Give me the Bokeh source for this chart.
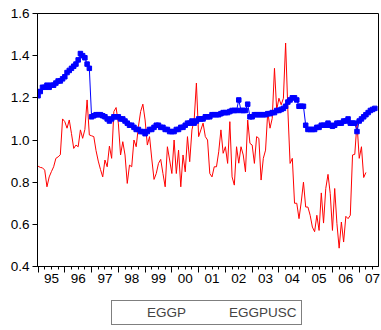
from bokeh.plotting import figure
from bokeh.layouts import column
from bokeh.models import (FixedTicker, LinearAxis, Legend, LegendItem, Range1d,
                          NumeralTickFormatter)
from bokeh.embed import file_html
from bokeh.resources import INLINE

start_year = 1995

eggp = [
    1.21, 1.23, 1.25, 1.25, 1.26, 1.25, 1.26, 1.26, 1.27, 1.28, 1.28, 1.29,
    1.30, 1.32, 1.33, 1.34, 1.35, 1.36, 1.38, 1.41, 1.40, 1.39, 1.36, 1.34,
    1.11, 1.115, 1.12, 1.12, 1.12, 1.115, 1.11, 1.10, 1.09, 1.10, 1.11, 1.11,
    1.11, 1.10, 1.10, 1.09, 1.08, 1.07, 1.07, 1.06, 1.05, 1.05, 1.04, 1.04,
    1.03, 1.04, 1.05, 1.05, 1.06, 1.07, 1.07, 1.06, 1.06, 1.05, 1.05, 1.04,
    1.04, 1.04, 1.05, 1.05, 1.06, 1.06, 1.07, 1.08, 1.08, 1.09, 1.08, 1.09,
    1.10, 1.10, 1.10, 1.11, 1.11, 1.11, 1.12, 1.12, 1.12, 1.12, 1.125, 1.13,
    1.13, 1.13, 1.135, 1.14, 1.14, 1.14, 1.19, 1.14, 1.14, 1.14, 1.17, 1.11,
    1.11, 1.12, 1.12, 1.12, 1.12, 1.12, 1.12, 1.125, 1.125, 1.13, 1.13, 1.14,
    1.14, 1.145, 1.15, 1.16, 1.18, 1.19, 1.20, 1.20, 1.19, 1.16, 1.16, 1.16,
    1.07, 1.05, 1.05, 1.05, 1.05, 1.06, 1.06, 1.07, 1.07, 1.07, 1.08, 1.07,
    1.065, 1.07, 1.08, 1.08, 1.08, 1.09, 1.09, 1.10, 1.08, 1.08, 1.08, 1.04,
    1.09, 1.10, 1.11, 1.12, 1.13, 1.14, 1.145, 1.15,
]

eggpusc = [
    0.876, 0.870, 0.868, 0.857, 0.778, 0.825, 0.850, 0.873, 0.913, 0.920, 0.930, 1.100,
    1.087, 1.056, 1.095, 1.030, 0.960, 0.976, 0.968, 1.048, 1.008, 1.050, 1.190, 1.024,
    1.020, 1.016, 0.950, 0.900, 0.860, 0.825, 0.905, 0.873, 0.971, 0.913, 1.135, 1.154,
    1.080, 0.929, 0.992, 0.929, 0.794, 0.881, 0.873, 1.000, 0.968, 1.063, 1.135, 1.170,
    1.095, 0.976, 1.016, 0.910, 0.813, 0.841, 0.889, 0.908, 0.841, 0.778, 0.968, 0.905,
    0.841, 1.000, 0.841, 0.952, 0.778, 0.929, 0.849, 1.016, 0.897, 1.048, 1.095, 1.270,
    1.016, 1.048, 1.080, 1.016, 1.000, 0.841, 0.825, 0.873, 0.873, 0.944, 1.048, 0.937,
    0.968, 0.889, 1.087, 0.825, 0.786, 0.968, 0.890, 0.968, 0.929, 0.849, 1.095, 0.984,
    0.976, 0.889, 1.016, 1.008, 0.810, 0.913, 0.952, 1.135, 1.056, 1.103, 1.340, 1.143,
    1.198, 1.167, 1.198, 1.460, 1.143, 0.889, 0.913, 0.700, 0.700, 0.627, 0.706, 0.800,
    0.682, 0.682, 0.643, 0.587, 0.565, 0.643, 0.571, 0.749, 0.606, 0.770, 0.837, 0.746,
    0.571, 0.770, 0.603, 0.487, 0.611, 0.516, 0.638, 0.627, 0.643, 0.929, 0.932, 1.080,
    0.913, 0.968, 0.822, 0.846,
]

year_labels = ["95", "96", "97", "98", "99", "00", "01", "02", "03", "04", "05", "06", "07"]
y_ticks = [0.4, 0.6, 0.8, 1.0, 1.2, 1.4, 1.6]
series_names = ["EGGP", "EGGPUSC"]

x_eggp = [start_year + i / 12 for i in range(len(eggp))]
x_usc = [start_year + i / 12 for i in range(len(eggpusc))]

FONT = "Liberation Sans"
BLUE = "#0000FF"
RED = "#FF0000"

p = figure(frame_width=341, frame_height=253,
           output_backend="svg", toolbar_location=None,
           x_range=Range1d(1994.98, 2007.72), y_range=Range1d(0.4, 1.6),
           x_axis_type=None, y_axis_type=None)
p.min_border_left = 37
p.min_border_right = 3
p.min_border_top = 13
p.min_border_bottom = 0
p.outline_line_color = "black"
p.outline_line_width = 1
p.xgrid.visible = False
p.ygrid.visible = False
p.background_fill_color = "white"
p.border_fill_color = "white"

# y axis
yax = LinearAxis(ticker=FixedTicker(ticks=y_ticks),
                 formatter=NumeralTickFormatter(format="0.0"))
yax.major_tick_out = 5
yax.major_tick_in = 0
yax.minor_tick_out = 0
yax.major_label_standoff = 3
yax.major_label_text_font = FONT
yax.major_label_text_font_size = "13.5px"
yax.major_label_text_color = "black"
yax.axis_line_color = "black"
yax.major_tick_line_color = "black"
p.add_layout(yax, "left")

# x axis ticks (year boundaries, quarterly minor ticks), labels invisible
years = list(range(start_year, start_year + len(year_labels) + 1))
quarters = [y + q / 4 for y in years for q in range(1, 4)]
xtick_ax = LinearAxis(ticker=FixedTicker(ticks=years, minor_ticks=quarters))
xtick_ax.major_label_text_font_size = "0px"
xtick_ax.major_label_text_alpha = 0
xtick_ax.major_label_standoff = 0
xtick_ax.major_tick_out = 6
xtick_ax.major_tick_in = 0
xtick_ax.minor_tick_out = 3
xtick_ax.minor_tick_in = 0
xtick_ax.axis_line_color = "black"
xtick_ax.major_tick_line_color = "black"
xtick_ax.minor_tick_line_color = "black"
p.add_layout(xtick_ax, "below")

# x axis labels (centered in each year)
mids = [start_year + k + 0.5 for k in range(len(year_labels))]
xlab_ax = LinearAxis(ticker=FixedTicker(ticks=mids, minor_ticks=[]))
xlab_ax.major_label_overrides = {m: lab for m, lab in zip(mids, year_labels)}
xlab_ax.major_tick_out = 0
xlab_ax.major_tick_in = 0
xlab_ax.minor_tick_out = 0
xlab_ax.axis_line_color = None
xlab_ax.major_label_standoff = 1
xlab_ax.major_label_text_font = FONT
xlab_ax.major_label_text_font_size = "13.5px"
xlab_ax.major_label_text_color = "black"
p.add_layout(xlab_ax, "below")

p.line(x_usc, eggpusc, line_color=RED, line_width=1)
p.line(x_eggp, eggp, line_color=BLUE, line_width=1)
p.scatter(x_eggp, eggp, marker="square", size=4.5, fill_color=BLUE, line_color=BLUE)

# separate strip holding the legend beneath the chart
p2 = figure(width=381, height=40, output_backend="svg", toolbar_location=None,
            x_range=Range1d(0, 1), y_range=Range1d(0, 1),
            x_axis_type=None, y_axis_type=None)
p2.min_border = 0
p2.outline_line_color = None
p2.xgrid.visible = False
p2.ygrid.visible = False
p2.background_fill_color = "white"
p2.border_fill_color = "white"
lb = p2.line([], [], line_color=BLUE, line_width=1)
sb = p2.scatter([], [], marker="square", size=4.5, fill_color=BLUE, line_color=BLUE)
lr = p2.line([], [], line_color=RED, line_width=1)

legend = Legend(items=[LegendItem(label=series_names[0], renderers=[lb, sb]),
                       LegendItem(label=series_names[1], renderers=[lr])],
                orientation="horizontal", location=(74, 0))
legend.border_line_color = "black"
legend.border_line_width = 1
legend.label_text_font = FONT
legend.label_text_font_size = "13.5px"
legend.glyph_width = 25
legend.glyph_height = 12
legend.label_height = 12
legend.label_standoff = 6
legend.spacing = 12
legend.padding = 4
legend.margin = 0
p2.add_layout(legend, "center")

layout = column(p, p2, spacing=0)
open("out.html", "w").write(file_html(layout, INLINE))
